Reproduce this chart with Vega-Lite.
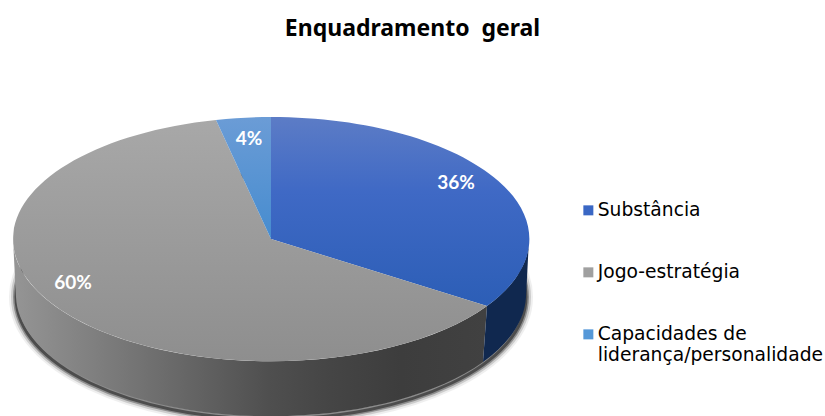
{
"$schema":"https://vega.github.io/schema/vega-lite/v6.json",
"width":825,"height":416,"padding":0,"autosize":"none","background":"white",
"title":{"text":"Enquadramento\u00a0\u00a0geral","anchor":"middle","dy":45,"font":"Noto Sans","fontSize":23,"fontWeight":"bold","color":"#000000"},
"config":{"view":{"stroke":null}},
"data":{"values":[
{"category":"Substância","share":0.36},
{"category":"Jogo-estratégia","share":0.60},
{"category":"Capacidades de liderança/personalidade","share":0.04}
]},
"encoding":{
"x":{"datum":0,"type":"quantitative","scale":{"domain":[-271,554]},"axis":null},
"y":{"datum":0,"type":"quantitative","scale":{"domain":[-177,239]},"axis":null}
},
"layer":[
{"transform":[{"filter":"datum.share==0.36"}],"mark":{"type":"point","filled":false,"size":4,"opacity":0.06,"stroke":"#000","strokeWidth":14,"shape":"M-255,58 A255,122 0 1 0 255,58 A255,122 0 1 0 -255,58 Z"}},
{"transform":[{"filter":"datum.share==0.36"}],"mark":{"type":"point","filled":false,"size":4,"opacity":0.14,"stroke":"#000","strokeWidth":10,"shape":"M-255,58 A255,122 0 1 0 255,58 A255,122 0 1 0 -255,58 Z"}},
{"transform":[{"filter":"datum.share==0.36"}],"mark":{"type":"point","filled":false,"size":4,"opacity":0.3,"stroke":"#000","strokeWidth":6,"shape":"M-255,58 A255,122 0 1 0 255,58 A255,122 0 1 0 -255,58 Z"}},
{"transform":[{"filter":"datum.share==0.36"}],"mark":{"type":"point","filled":false,"size":4,"opacity":0.45,"stroke":"#000","strokeWidth":3,"shape":"M-255,58 A255,122 0 1 0 255,58 A255,122 0 1 0 -255,58 Z"}},
{"transform":[{"filter":"datum.share==0.60"}],"mark":{"type":"point","filled":true,"size":4,"opacity":1,"shape":"M-258,0 A258,122 0 0 0 216,67 L212,123 A255,122 0 0 1 -255,58 Z","fill":{"gradient":"linear","x1":0,"y1":0,"x2":1,"y2":0,"stops":[{"offset":0,"color":"#959595"},{"offset":0.25,"color":"#757575"},{"offset":0.54,"color":"#4f4f4f"},{"offset":0.67,"color":"#454545"},{"offset":0.82,"color":"#3d3d3d"},{"offset":1,"color":"#414141"}]}}},
{"transform":[{"filter":"datum.share==0.36"}],"mark":{"type":"point","filled":true,"size":4,"opacity":1,"fill":"#10284f","shape":"M216,67 A258,122 0 0 0 258,0 L255,58 A255,122 0 0 1 212,123 Z"}},
{"mark":{"type":"point","filled":true,"size":4,"opacity":1,"shape":"square"},
"encoding":{
"color":{"field":"category","type":"nominal","scale":{"domain":["Substância","Jogo-estratégia","Capacidades de liderança/personalidade"],"range":["#3a67c4","#a0a0a0","#5598d8"]},
"legend":{"title":null,"orient":"none","legendX":579,"legendY":201,"symbolType":"square","symbolSize":100,"symbolStrokeWidth":0,"labelFont":"DejaVu Sans","labelFontSize":18.7,"labelColor":"#000","labelOffset":0,"labelLimit":300,"rowPadding":42,
"labelExpr":"datum.label=='Capacidades de liderança/personalidade'?['Capacidades de','liderança/personalidade']:datum.label"}}
}},
{"transform":[{"filter":"datum.share==0.36"}],"mark":{"type":"point","filled":true,"size":4,"opacity":1,"shape":"M0,0 L0,-122 A258,122 0 0 1 216,67 Z","fill":{"gradient":"linear","x1":0,"y1":0,"x2":0,"y2":1,"stops":[{"offset":0,"color":"#5c7cc6"},{"offset":0.4,"color":"#3f69c5"},{"offset":1,"color":"#2c5eb6"}]}}},
{"transform":[{"filter":"datum.share==0.60"}],"mark":{"type":"point","filled":true,"size":4,"opacity":1,"shape":"M0,0 L216,67 A258,122 0 1 1 -55,-119 Z","fill":{"gradient":"linear","x1":0,"y1":0,"x2":0,"y2":1,"stops":[{"offset":0,"color":"#a8a8a8"},{"offset":1,"color":"#8e8e8e"}]}}},
{"transform":[{"filter":"datum.share==0.04"}],"mark":{"type":"point","filled":true,"size":4,"opacity":1,"shape":"M0,0 L-55,-119 A258,122 0 0 1 0,-122 Z","fill":{"gradient":"linear","x1":0,"y1":0,"x2":0,"y2":1,"stops":[{"offset":0,"color":"#6b9cd6"},{"offset":1,"color":"#468ccf"}]}}},
{"transform":[{"filter":"datum.share==0.36"}],"mark":{"type":"text","dx":185,"dy":-56,"font":"Lato","fontSize":19,"fontWeight":"bold","color":"#fff"},"encoding":{"text":{"field":"share","type":"quantitative","format":".0%"}}},
{"transform":[{"filter":"datum.share==0.60"}],"mark":{"type":"text","dx":-198,"dy":44,"font":"Lato","fontSize":19,"fontWeight":"bold","color":"#fff"},"encoding":{"text":{"field":"share","type":"quantitative","format":".0%"}}},
{"transform":[{"filter":"datum.share==0.04"}],"mark":{"type":"text","dx":-22,"dy":-100,"font":"Lato","fontSize":19,"fontWeight":"bold","color":"#fff"},"encoding":{"text":{"field":"share","type":"quantitative","format":".0%"}}}
]
}
